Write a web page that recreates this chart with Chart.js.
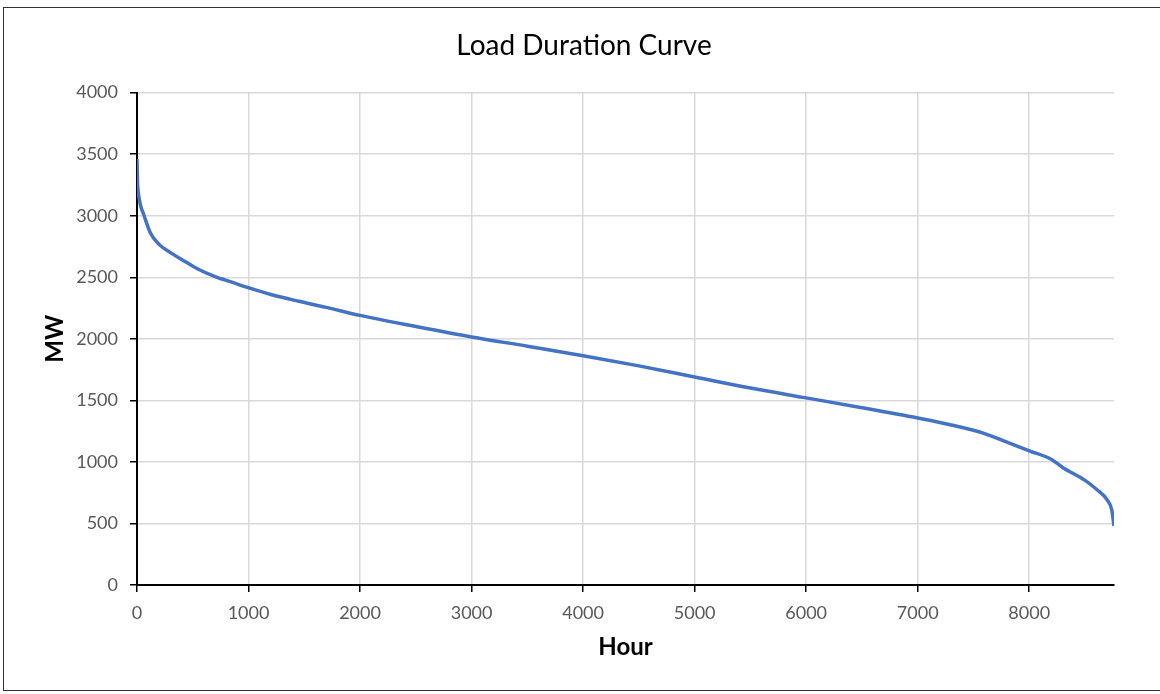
<!DOCTYPE html>
<html>
<head>
<meta charset="utf-8">
<script src="https://cdn.jsdelivr.net/npm/chart.js@4/dist/chart.umd.min.js"></script>
<style>
  html, body { margin: 0; padding: 0; background: #fff; }
  #frame { position: absolute; left: 3px; top: 7px; width: 1170px; height: 684px; border: 1px solid #333; box-sizing: border-box; }
  #ldc { position: absolute; left: 0; top: 0; }
</style>
</head>
<body>
<div id="frame"></div>
<canvas id="ldc" width="1160" height="694"></canvas>
<script>
// hours sorted by load
const hours = [0, 5, 10, 30, 60, 120, 200, 300, 400, 550, 700, 850, 1000, 1200, 1450, 1700, 2000, 2500, 3000, 3500, 4000, 4500, 5000, 5500, 6000, 6500, 7000, 7300, 7600, 7800, 8000, 8200, 8300, 8500, 8600, 8700, 8740, 8760];
const loadMW = [3460, 3260, 3200, 3090, 3010, 2860, 2765, 2700, 2645, 2565, 2505, 2460, 2415, 2360, 2305, 2255, 2190, 2100, 2015, 1940, 1863, 1780, 1690, 1600, 1520, 1440, 1356, 1300, 1230, 1160, 1090, 1020, 955, 850, 780, 690, 610, 480];
const hourTicks = [0, 1000, 2000, 3000, 4000, 5000, 6000, 7000, 8000];

const LABEL_FONT = { family: "Lato", size: 18 };
const TICK_GRAY = "#595959";

new Chart(document.getElementById("ldc"), {
  type: "line",
  data: {
    datasets: [{
      label: "Load",
      data: hours.map((h, i) => ({ x: h, y: loadMW[i] })),
      borderColor: "#4472C4",
      borderWidth: 3.5,
      pointRadius: 0,
      cubicInterpolationMode: "monotone",
      fill: false
    }]
  },
  options: {
    responsive: false,
    animation: false,
    layout: { padding: { left: 8, right: 0, top: 0, bottom: 0 } },
    plugins: {
      legend: { display: false },
      tooltip: { enabled: false },
      title: {
        display: true,
        text: "Load Duration Curve",
        color: "#000",
        font: { family: "Lato", size: 28, weight: "normal" },
        padding: { top: 29, bottom: 30 }
      }
    },
    scales: {
      x: {
        type: "linear",
        min: 0,
        max: 8760,
        afterBuildTicks: s => { s.ticks = hourTicks.map(v => ({ value: v })); },
        afterFit: s => { s.height = 109; },
        ticks: { color: TICK_GRAY, font: LABEL_FONT, padding: 10, maxRotation: 0, autoSkip: false, callback: v => String(v) },
        grid: { color: "#d9d9d9", tickColor: "#000", tickLength: 7, lineWidth: 1.5 },
        border: { color: "#000", width: 2 },
        title: {
          display: true,
          text: "Hour",
          color: "#000",
          font: { family: "Lato", size: 24, weight: "bold" },
          padding: { top: 0, bottom: 32 }
        }
      },
      y: {
        min: 0,
        max: 4000,
        ticks: { stepSize: 500, color: TICK_GRAY, font: LABEL_FONT, padding: 12, callback: v => String(v) },
        afterFit: s => { s.width = 129; },
        grid: { color: "#d9d9d9", tickColor: "#000", tickLength: 7, lineWidth: 1.5 },
        border: { color: "#000", width: 2 },
        title: {
          display: true,
          text: "MW",
          color: "#000",
          font: { family: "Lato", size: 24, weight: "bold" },
          padding: { top: 33, bottom: 0 }
        }
      },
      // empty right gutter so the plot ends where the reference does
      gutter: {
        position: "right",
        ticks: { display: false },
        grid: { display: false },
        border: { display: false },
        afterFit: s => { s.width = 46; }
      }
    }
  }
});
</script>
</body>
</html>
